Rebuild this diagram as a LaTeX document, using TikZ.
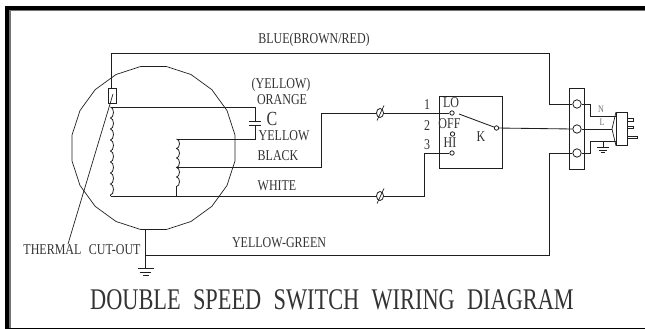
\documentclass[tikz,border=0pt]{standalone}
\usepackage{fontspec}
\usetikzlibrary{shapes.geometric,decorations.pathmorphing}
\newfontfamily\lblfont[FakeStretch=0.8,WordSpace=2.5]{Liberation Serif}
\newfontfamily\ttlfont[FakeStretch=0.745,WordSpace=2.2]{Liberation Serif}
\definecolor{ink}{gray}{0.12}
\definecolor{txt}{gray}{0.2}
\tikzset{
  wire/.style={draw=ink,line width=0.85pt},
  thin wire/.style={draw=ink,line width=0.7pt},
  lbl/.style={inner sep=0pt,text=txt,font=\lblfont\fontsize{15}{16}\selectfont},
  small lbl/.style={inner sep=0pt,text=txt!70,font=\lblfont\fontsize{10}{11}\selectfont},
  title lbl/.style={inner sep=0pt,text=txt,font=\ttlfont\fontsize{30}{32}\selectfont},
  contact/.style={circle,draw=ink,line width=0.8pt,fill=white,minimum size=4.4pt,inner sep=0pt},
  terminal/.style={circle,draw=ink,line width=0.8pt,minimum size=8.4pt,inner sep=0pt},
  coilwire/.style={draw=ink,line width=0.8pt,decorate,decoration={bumps,segment length=22pt,amplitude=3pt}},
  coilwirb/.style={draw=ink,line width=0.8pt,decorate,decoration={bumps,segment length=19pt,amplitude=3pt}},
  box/.style={draw=ink,line width=0.85pt,inner sep=0pt,anchor=north west},
  phi/.style={ellipse,draw=ink,line width=0.8pt,fill=white,minimum width=7pt,minimum height=9pt,inner sep=0pt},
}
\begin{document}
\begin{tikzpicture}[x=1pt,y=-1pt]
\useasboundingbox (0,0) rectangle (645,329);
% frame
\fill[black!55] (5,6) rectangle (645,11.5);
\fill[black!55] (5,6) rectangle (10.7,329);
\fill[black] (5,6) rectangle (645,10);
\fill[black] (5,6) rectangle (9,329);
\fill[black] (5,327.5) rectangle (645,329);

% motor
\node[regular polygon,regular polygon sides=20,draw=ink,line width=0.7pt,minimum size=165pt,inner sep=0pt] (motor) at (153.5,148) {};

% thermal cut-out
\node[box,minimum width=8pt,minimum height=15pt] (th) at (107.5,88) {};
\coordinate (thtop) at (111,53);
\coordinate (tr) at (549,53);
\coordinate (thtap) at (113,94);
\coordinate (thend) at (68,244);
\draw[thin wire] (thtap) -- (thend);

% terminal block
\node[box,minimum width=15pt,minimum height=81pt] (block) at (569,88) {};
\node[terminal] (t1) at (577,104) {};
\node[terminal] (t2) at (577,129) {};
\node[terminal] (t3) at (577,153) {};

% blue wire
\draw[wire] (th.north -| thtop) -- (thtop) -- (tr) |- (t1.west);

% coil 1
\coordinate (c1a) at (110.5,107);
\coordinate (c1b) at (110.5,196);
\coordinate (capx) at (255,107);
\draw[coilwire] (c1a) -- (c1b);

% capacitor
\coordinate (capu) at (255,121);
\coordinate (capl) at (255,125);
\coordinate (c2a) at (176.5,139);
\coordinate (c2b) at (176.5,196);
\coordinate (c2t) at (176.5,167);
\draw[wire] (c1a) -- (capx) -- (capu);
\draw[wire] (249,121) -- (261,121);
\draw[wire] (249,125) -- (261,125);
\draw[wire] (capl) -- (255,139) -- (c2a);
\draw[coilwirb] (c2a) -- (c2b);

% switch
\node[box,minimum width=63pt,minimum height=72pt] (sw) at (439,96) {};
\node[contact] (lo) at (452,113) {};
\node[contact] (off) at (452.5,134) {};
\node[contact] (hi) at (452,153) {};
\node[contact] (k) at (496.5,128) {};
\coordinate (blade) at (459,114);
\draw[wire] (blade) -- (k);

% phases
\coordinate (bk) at (321,167);
\coordinate (bku) at (321,113);
\coordinate (wh) at (424,196);
\coordinate (whu) at (424,153);
\draw[wire] (c2t) -- (bk) -- (bku) -- (lo.west);
\draw[wire] (c1b) -- (wh) -- (whu) -- (hi.west);
\node[phi] (p1) at (380,113) {};
\node[phi] (p2) at (380,196) {};
\draw[thin wire] (377,120.5) -- (384,105.5);
\draw[thin wire] (377,203.5) -- (384,188.5);

% mains wire
\coordinate (plugtip) at (612,129);
\draw[wire] (k) -- (t2.west);
\draw[wire] (t2.east) -- (plugtip);

% earth
\coordinate (gt) at (145.7,230);
\coordinate (gb) at (145.7,268);
\coordinate (gj) at (145.7,255);
\coordinate (gr) at (549,255);
\draw[wire] (motor.south -| gt) -- (gb);
\draw[wire] (gj) -- (gr) |- (t3.west);
\draw[wire] (138,268) -- (153.5,268);
\draw[wire] (140,272) -- (151,272);
\draw[wire] (143,275.5) -- (148.5,275.5);

% plug
\node[box,minimum width=11pt,minimum height=33pt] (plug) at (616,112) {};
\coordinate (pl1) at (590,116);
\coordinate (pl2) at (590,141);
\draw[wire] (t1.east) -| (pl1) -- (plug.west |- pl1);
\draw[wire] (t3.east) -| (pl2) -- (plug.west |- pl2);
\draw[thin wire] (plug.north west) -- (plugtip) -- (plug.south west);
\draw[thin wire] (627,118.7) rectangle (633,121);
\draw[thin wire] (627,126) rectangle (633,128.5);
\draw[thin wire] (627,136) rectangle (637,138.5);
\coordinate (pe) at (603,141);
\draw[thin wire] (pe) -- (603,147);
\draw[thin wire] (597,147) -- (609,147);
\draw[thin wire] (599,150) -- (607,150);
\draw[thin wire] (601,152.5) -- (605,152.5);

% labels
\node[lbl] (l1) at (314,40) {BLUE(BROWN/RED)};
\node[lbl] (l2) at (281,85) {(YELLOW)};
\node[lbl] (l3) at (282,100) {ORANGE};
\node[lbl,font=\lblfont\fontsize{20}{22}\selectfont] (l4) at (272,118.5) {C};
\node[lbl] (l5) at (284,136) {YELLOW};
\node[lbl] (l6) at (278,156) {BLACK};
\node[lbl] (l7) at (277,186) {WHITE};
\node[lbl] (l8) at (279,243) {YELLOW-GREEN};
\node[lbl] (l9) at (82,250) {THERMAL CUT-OUT};
\node[lbl] (n1) at (427,105) {1};
\node[lbl] (n2) at (427,126) {2};
\node[lbl] (n3) at (427,145) {3};
\node[lbl] (lolbl) at (451,103) {LO};
\node[lbl] (offlbl) at (449.5,124) {OFF};
\node[lbl] (hilbl) at (450,143) {HI};
\node[lbl] (klbl) at (481,137) {K};
\node[small lbl] (nl) at (601,109) {N};
\node[small lbl] (ll) at (602,122) {L};
\node[title lbl] (title) at (332,300) {DOUBLE SPEED SWITCH WIRING DIAGRAM};
\end{tikzpicture}
\end{document}
